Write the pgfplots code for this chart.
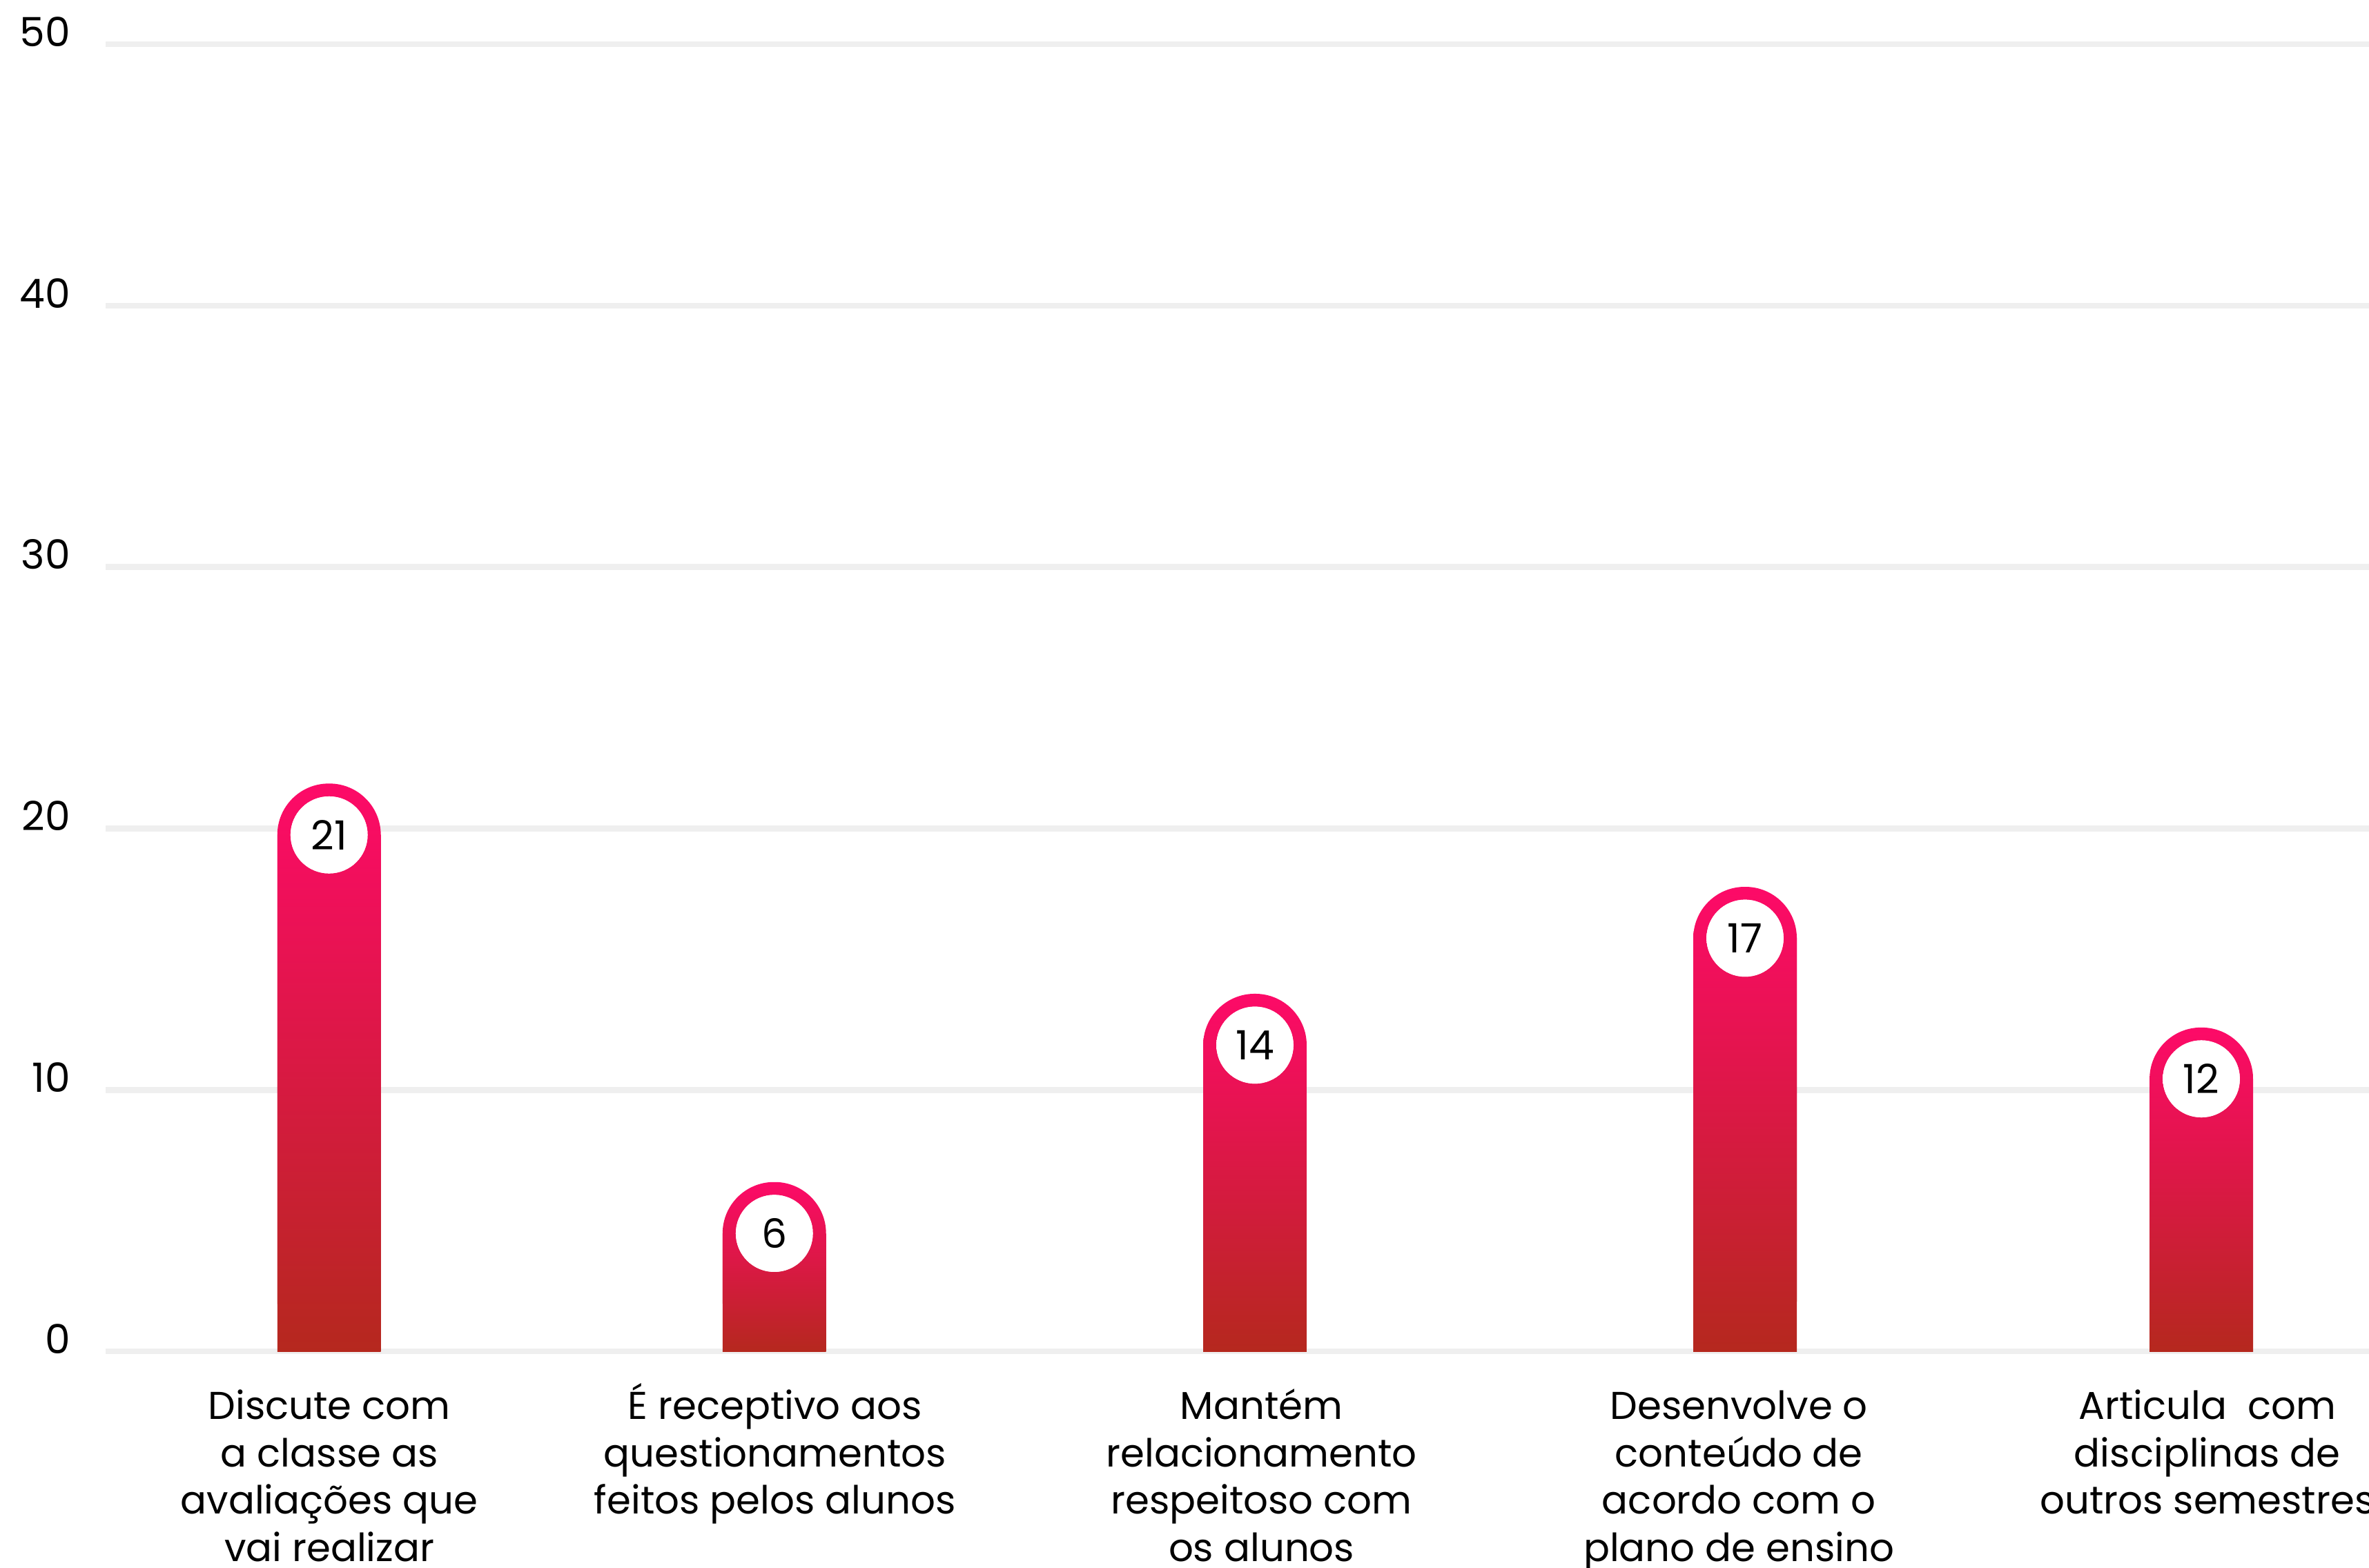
\documentclass[border=0pt]{standalone}
\usepackage{pgfplots}
\pgfplotsset{compat=1.18}
\usepackage{fontspec}
\setmainfont{Poppins}
\definecolor{gridc}{RGB}{239,239,239}
\definecolor{barTop}{RGB}{253,10,104}
\definecolor{barBot}{RGB}{181,40,30}
\newcommand{\fl}{\rule{0pt}{8.5pt}}
\pgfplotsset{
  % rounded bar from 0 to the value (rounded top)
  capbar/.style={ybar, bar width=68.5, bar shift=0pt, draw=none,
    top color=barTop, bottom color=barBot, rounded corners=10.2pt,
    nodes near coords, point meta=explicit symbolic,
    every node near coord/.append style={anchor=center, yshift=-10.2pt,
      circle, draw=none, top color=white, bottom color=white, fill=white,
      minimum size=15.3pt, inner sep=0pt, text=black,
      font=\fontsize{8}{9.6}\selectfont}},
  % square stem covering the rounded bottom corners
  stembar/.style={ybar, bar width=68.5, bar shift=0pt, draw=none,
    top color=barTop!#1!barBot, bottom color=barBot,
    y filter/.expression={y-1.964}},
}
\begin{document}
\begin{tikzpicture}
\begin{axis}[
  scale only axis, width=449.43pt, height=259.65pt,
  xmin=69.9, xmax=1568, ymin=0, ymax=50,
  clip=true,
  axis line style={draw=none},
  major tick length=0pt,
  ymajorgrids, major grid style={gridc, line width=1.15pt},
  ytick={0,10,20,30,40,50},
  yticklabels={0,10,20,30,40,50},
  xtick={218,513,835,1151,1461},
  xticklabels={
    {\fl Discute com\\a classe as\\avaliações que\\vai realizar},
    {\fl É receptivo aos\\questionamentos\\feitos pelos alunos},
    {\fl Mantém\\relacionamento\\respeitoso com\\os alunos},
    {\fl Desenvolve o\\conteúdo de\\acordo com o\\plano de ensino},
    {\fl Articula\ \ com\\disciplinas de\\outros semestres}},
  /pgf/number format/assume math mode=true,
  yticklabel style={font=\fontsize{8}{9.6}\selectfont, anchor=base east, inner sep=0pt, xshift=-6.8pt, yshift=-0.45pt},
  xticklabel style={font=\fontsize{7.7}{9.4}\selectfont, align=center, anchor=north, inner sep=0pt, yshift=-4.8pt},
]
% values: bar top heights as drawn, labels as printed
\addplot[stembar=91.0] coordinates {(217.8,21.72)};
\addplot[capbar] coordinates {(217.8,21.72) [21]};
\addplot[stembar=69.7] coordinates {(512.5,6.48)};
\addplot[capbar] coordinates {(512.5,6.48) [6]};
\addplot[stembar=85.6] coordinates {(830.6,13.68)};
\addplot[capbar] coordinates {(830.6,13.68) [14]};
\addplot[stembar=89.0] coordinates {(1155,17.77)};
\addplot[capbar] coordinates {(1155,17.77) [17]};
\addplot[stembar=84.2] coordinates {(1457,12.39)};
\addplot[capbar] coordinates {(1457,12.39) [12]};
\coordinate (bl) at (rel axis cs:0,0);
\coordinate (tr) at (rel axis cs:1,1);
\end{axis}
\pgfresetboundingbox
\path[use as bounding box] ([xshift=-20.97pt, yshift=-42.99pt]bl) rectangle ([yshift=8.76pt]tr);
\end{tikzpicture}
\end{document}
